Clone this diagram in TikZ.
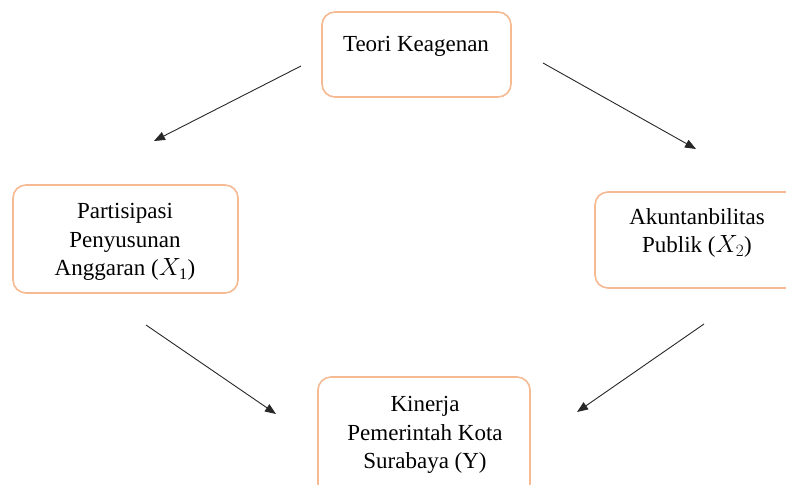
\documentclass[tikz,border=0pt]{standalone}
\usepackage{fontspec}
\setmainfont{Liberation Serif}
\usetikzlibrary{arrows.meta}
\definecolor{boxline}{RGB}{246,186,146}
\definecolor{arrowline}{RGB}{40,40,40}
\begin{document}
\begin{tikzpicture}[x=1pt,y=-1pt,
  boxshape/.style={draw=boxline,line width=1.6pt,rounded corners=13pt,rectangle,inner sep=0pt},
  lbl/.style={align=center,font=\fontsize{23}{28.5}\selectfont,inner sep=0pt},
  conn/.style={draw=arrowline,line width=0.9pt,-{Triangle[length=11pt,width=8.5pt]}}]
\clip (0,0) rectangle (786,484);
\fill[white] (0,0) rectangle (786,484);
% boxes
\node[boxshape,minimum width=189pt,minimum height=85pt] (top) at (416.5,54.5) {};
\node[boxshape,minimum width=225pt,minimum height=108pt] (left) at (125.5,239) {};
\node[boxshape,minimum width=210pt,minimum height=96pt] (right) at (700,240) {};
\node[boxshape,minimum width=212pt,minimum height=120pt] (bottom) at (424,437) {};
% labels
\node[lbl] (topt) at (416,46) {Teori Keagenan};
\node[lbl] (leftt) at (125,242) {Partisipasi\\Penyusunan\\Anggaran ($X_{\mathrm{1}}$)};
\node[lbl] (rightt) at (697,233) {Akuntanbilitas\\Publik ($X_2$)};
\node[lbl] (bottomt) at (425,435) {Kinerja\\Pemerintah Kota\\Surabaya (Y)};
% connector ends
\coordinate (a1) at (301,66);
\coordinate (b1) at (154,141);
\coordinate (a2) at (543,63);
\coordinate (b2) at (696,149);
\coordinate (a3) at (146,325);
\coordinate (b3) at (276,414);
\coordinate (a4) at (704,324);
\coordinate (b4) at (577,412);
\draw[conn] (a1) -- (b1);
\draw[conn] (a2) -- (b2);
\draw[conn] (a3) -- (b3);
\draw[conn] (a4) -- (b4);
\end{tikzpicture}
\end{document}
